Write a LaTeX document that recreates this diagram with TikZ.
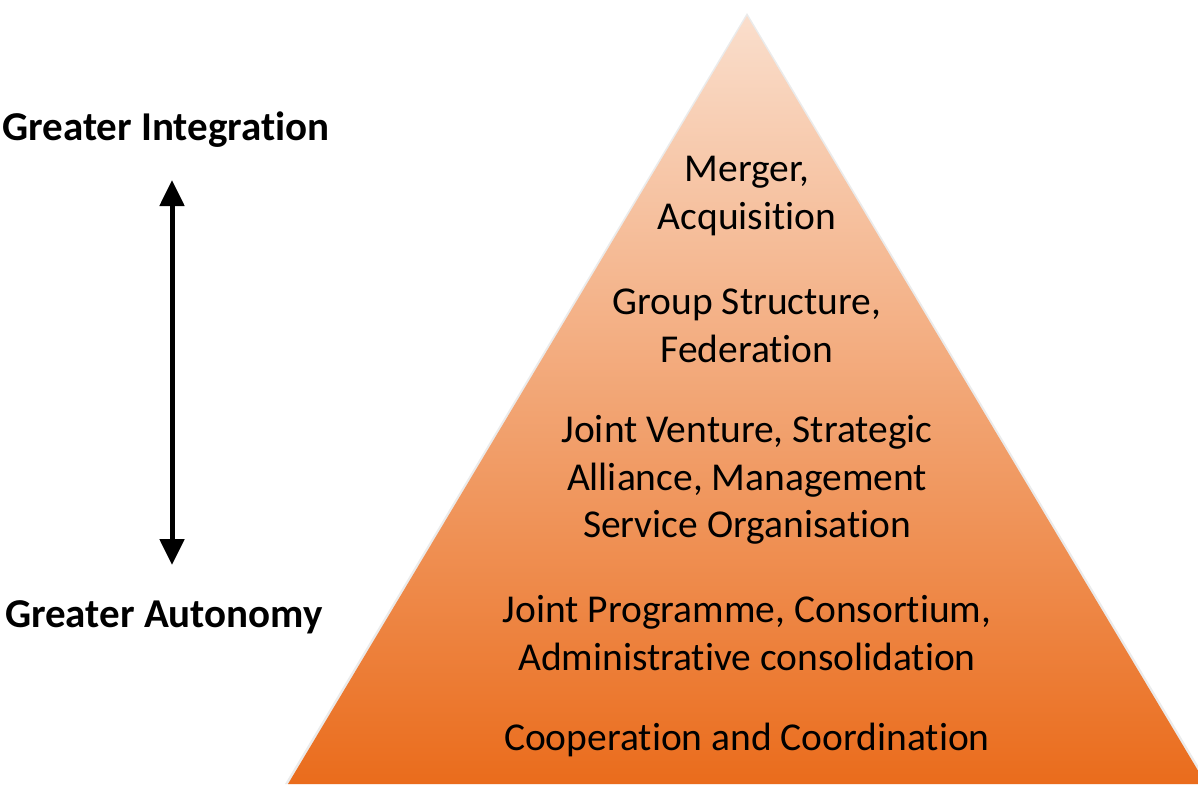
\documentclass[tikz,border=0pt]{standalone}
\usepackage{fontspec}
\setmainfont{Carlito}[Ligatures=NoCommon]
\usetikzlibrary{arrows.meta}
\definecolor{pyrtop}{RGB}{250,222,204}
\definecolor{pyrbot}{RGB}{234,108,28}
\tikzset{
  lbl/.style={font=\fontsize{41}{48}\selectfont\bfseries, inner sep=0pt, anchor=center},
  ptxt/.style={font=\fontsize{39.5}{47.5}\selectfont, align=center, inner sep=0pt, anchor=center},
}
\begin{document}
\begin{tikzpicture}[x=1pt,y=-1pt]
\useasboundingbox (0,0) rectangle (1198,784);
\begin{scope}
\clip (0,0) rectangle (1198,784);
\fill[black!20, opacity=0.4] (747,13) -- (285,784) -- (1209,784) -- cycle;
\shade[top color=pyrtop, bottom color=pyrbot] (747,16) -- (288,784) -- (1206,784) -- cycle;
\end{scope}
\node[lbl] (gi) at (166,130) {Greater Integration};
\node[lbl] (ga) at (164,617) {Greater Autonomy};
\coordinate (atop) at (172,180);
\coordinate (abot) at (172,565);
\draw[line width=5pt, {Triangle[width=24pt,length=26pt]}-{Triangle[width=24pt,length=26pt]}] (atop) -- (abot);
\node[ptxt] (m) at (747,196) {Merger,\\Acquisition};
\node[ptxt] (g) at (747,326) {Group Structure,\\Federation};
\node[ptxt] (j) at (747,480) {Joint Venture, Strategic\\Alliance, Management\\Service Organisation};
\node[ptxt] (p) at (747,633) {Joint Programme, Consortium,\\Administrative consolidation};
\node[ptxt] (c) at (747,740) {Cooperation and Coordination};
\end{tikzpicture}
\end{document}
